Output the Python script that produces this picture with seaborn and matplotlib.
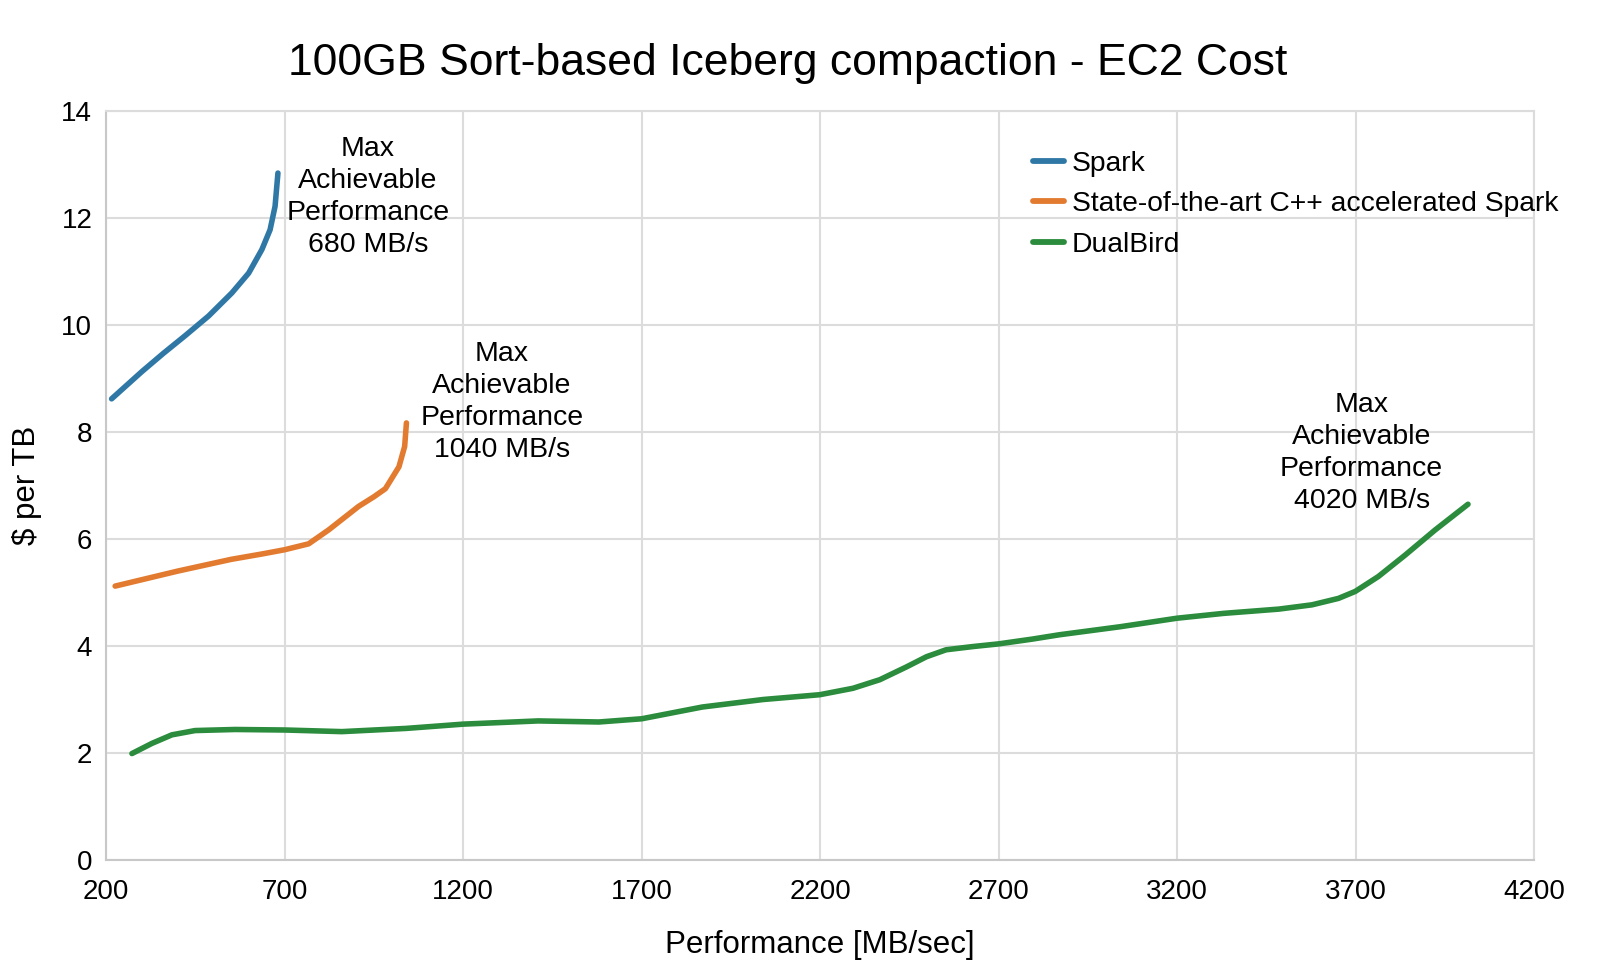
import numpy as np
import pandas as pd
import matplotlib
matplotlib.use('Agg')
import matplotlib.pyplot as plt
import seaborn as sns

# ── Data ──────────────────────────────────────────────────────────────
spark_x = [215, 300, 360, 421, 487, 552, 599, 636, 659, 673, 681]
spark_y = [8.62, 9.13, 9.47, 9.80, 10.17, 10.60, 10.97, 11.41, 11.78, 12.22, 12.84]

cpp_x = [225, 400, 550, 636, 700, 767, 823, 907, 950, 982, 1020, 1036, 1041]
cpp_y = [5.12, 5.40, 5.62, 5.72, 5.80, 5.91, 6.17, 6.61, 6.79, 6.94, 7.35, 7.73, 8.17]

dual_x = [272, 328, 384, 449, 561, 702, 860, 1040, 1200, 1410, 1580, 1700, 1870,
          2040, 2199, 2292, 2367, 2442, 2498, 2553, 2628, 2700, 2795, 2870, 3040,
          3200, 3330, 3485, 3578, 3652, 3699, 3764, 3839, 3923, 4015]
dual_y = [1.99, 2.18, 2.34, 2.42, 2.44, 2.43, 2.40, 2.46, 2.54, 2.60, 2.58, 2.64, 2.86,
          3.00, 3.09, 3.21, 3.37, 3.61, 3.80, 3.93, 3.99, 4.04, 4.13, 4.21, 4.36,
          4.52, 4.61, 4.69, 4.77, 4.89, 5.02, 5.30, 5.70, 6.17, 6.65]

SERIES = ['Spark', 'State-of-the-art C++ accelerated Spark', 'DualBird']
COLORS = {'Spark': '#2f78a6',
          'State-of-the-art C++ accelerated Spark': '#e27b30',
          'DualBird': '#2a8c3c'}

x_ticks = [200, 700, 1200, 1700, 2200, 2700, 3200, 3700, 4200]
y_ticks = [0, 2, 4, 6, 8, 10, 12, 14]

max_perf = [680, 1040, 4020]
label_pos = [(933, 12.39), (1309, 8.56), (3717, 7.60)]

df = pd.concat([
    pd.DataFrame({'perf': spark_x, 'cost': spark_y, 'engine': SERIES[0]}),
    pd.DataFrame({'perf': cpp_x, 'cost': cpp_y, 'engine': SERIES[1]}),
    pd.DataFrame({'perf': dual_x, 'cost': dual_y, 'engine': SERIES[2]}),
])

# ── Plot ──────────────────────────────────────────────────────────────
sns.set_theme(style='white')
plt.rcParams['font.family'] = ['Liberation Sans', 'DejaVu Sans']
plt.rcParams['text.color'] = 'black'
plt.rcParams['axes.labelcolor'] = 'black'
plt.rcParams['xtick.color'] = 'black'
plt.rcParams['ytick.color'] = 'black'

fig = plt.figure(figsize=(16.17, 9.72), dpi=100)
ax = fig.add_axes([0.0657, 0.1152, 0.883, 0.7706])

sns.lineplot(data=df, x='perf', y='cost', hue='engine', hue_order=SERIES,
             palette=COLORS, linewidth=4.0, sort=False, estimator=None,
             ax=ax, legend=False)
for line in ax.get_lines():
    line.set_solid_capstyle('round')
    line.set_solid_joinstyle('round')

ax.set_xlim(200, 4200)
ax.set_ylim(0, 14)
ax.set_xticks(x_ticks)
ax.set_yticks(y_ticks)
ax.tick_params(axis='both', labelsize=20, length=0)
ax.tick_params(axis='x', pad=14)
ax.tick_params(axis='y', pad=10)
ax.grid(True, color='#dcdcdc', linewidth=1.5)
for side in ['top', 'right', 'left', 'bottom']:
    ax.spines[side].set_color('#dcdcdc')
    ax.spines[side].set_linewidth(1.5)
ax.spines['left'].set_color('#c8c8c8')
ax.spines['bottom'].set_color('#c8c8c8')

ax.set_xlabel('Performance [MB/sec]', fontsize=22.5, labelpad=18)
ax.set_ylabel('\\$ per TB', fontsize=22.5, labelpad=14)
ax.set_title('100GB Sort-based Iceberg compaction - EC2 Cost', fontsize=32, pad=26,
             x=0.477)

for mp, (lx, ly) in zip(max_perf, label_pos):
    ax.text(lx, ly, f'Max\nAchievable\nPerformance\n{mp} MB/s', fontsize=20.5,
            ha='center', va='center', linespacing=1.3)

handles = [plt.Line2D([], [], color=COLORS[s], linewidth=4.2, solid_capstyle='round')
           for s in SERIES]
ax.legend(handles, SERIES, loc='upper left', bbox_to_anchor=(0.631, 0.981),
          frameon=False, fontsize=20.3, handlelength=1.1, handletextpad=0.3,
          labelspacing=0.52)

plt.savefig('out.png', dpi=100)
plt.close()
